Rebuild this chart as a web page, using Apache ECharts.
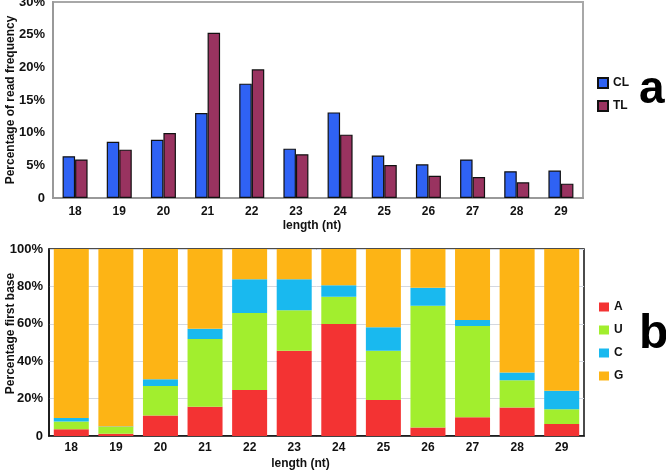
<!DOCTYPE html>
<html>
<head>
<meta charset="utf-8">
<script src="https://cdn.jsdelivr.net/npm/echarts@6/dist/echarts.min.js"></script>
<style>
  html, body { margin: 0; padding: 0; background: #fff; }
  #chart { width: 666px; height: 470px; }
</style>
</head>
<body>
<div id="chart"></div>
<script>
// read length categories
var lengths = ['18', '19', '20', '21', '22', '23', '24', '25', '26', '27', '28', '29'];
// panel a: percentage of read frequency
var clFreq = [6.4, 8.6, 8.9, 13.0, 17.5, 7.55, 13.1, 6.5, 5.15, 5.9, 4.1, 4.2];
var tlFreq = [5.9, 7.4, 9.95, 25.3, 19.7, 6.7, 9.7, 5.05, 3.4, 3.2, 2.4, 2.2];
// panel b: first base composition (%)
var baseA = [3.6, 1.2, 10.9, 15.7, 24.6, 45.6, 59.9, 19.3, 4.6, 10.0, 15.2, 6.4];
var baseU = [4.1, 3.6, 15.8, 36.2, 41.2, 21.6, 14.6, 26.3, 65.1, 48.8, 14.6, 7.9];
var baseC = [1.9, 0.3, 3.6, 5.5, 18.0, 16.6, 6.1, 12.5, 9.6, 3.2, 4.1, 9.9];
var baseG = [90.4, 94.9, 69.7, 42.6, 16.2, 16.2, 19.4, 41.9, 20.7, 38.0, 66.1, 75.8];

var font = 'Liberation Sans, Arial, sans-serif';
var bold = { fontFamily: font, fontWeight: 'bold', color: '#111', fontSize: 12 };

function pct(v) { return v === 0 ? '0' : v + '%'; }

var chart = echarts.init(document.getElementById('chart'));

var option = {
    animation: false,
    backgroundColor: '#fff',
    title: [
        { text: 'a', left: 634, top: 62, textStyle: { fontFamily: font, fontSize: 46, fontWeight: 'bold', color: '#000' } },
        { text: 'b', left: 634, top: 306, textStyle: { fontFamily: font, fontSize: 48, fontWeight: 'bold', color: '#000' } }
    ],
    grid: [
        {
            left: 53, right: 83, top: 2, height: 196, containLabel: false, outerBoundsMode: 'none',
            show: true, borderColor: '#a8a8a8', borderWidth: 2
        },
        {
            left: 49, right: 82, top: 249, height: 187, containLabel: false, outerBoundsMode: 'none',
            show: true, borderColor: '#111', borderWidth: 1.5
        }
    ],
    legend: [
        {
            data: ['CL', 'TL'],
            orient: 'vertical',
            left: 592, top: 72,
            icon: 'rect',
            itemWidth: 10, itemHeight: 10, itemGap: 11,
            textStyle: { fontFamily: font, fontWeight: 'bold', fontSize: 12, color: '#111' }
        },
        {
            data: ['A', 'U', 'C', 'G'],
            orient: 'vertical',
            left: 594, top: 296,
            icon: 'rect',
            itemWidth: 10, itemHeight: 9, itemGap: 11,
            textStyle: { fontFamily: font, fontWeight: 'bold', fontSize: 12, color: '#111' }
        }
    ],
    xAxis: [
        {
            type: 'category', gridIndex: 0, data: lengths,
            name: 'length (nt)', nameLocation: 'middle', nameGap: 22,
            nameTextStyle: Object.assign({ padding: [0, 12, 0, 0] }, bold),
            axisLine: { lineStyle: { color: '#999', width: 2 } },
            axisTick: { inside: true, length: 4, lineStyle: { color: '#999' } },
            axisLabel: Object.assign({ margin: 8 }, bold)
        },
        {
            type: 'category', gridIndex: 1, data: lengths,
            name: 'length (nt)', nameLocation: 'middle', nameGap: 22,
            nameTextStyle: Object.assign({ padding: [0, 32, 0, 0] }, bold),
            axisLine: { lineStyle: { color: '#111', width: 1.5 } },
            axisTick: { show: false },
            axisLabel: Object.assign({ margin: 6 }, bold)
        }
    ],
    yAxis: [
        {
            type: 'value', gridIndex: 0, min: 0, max: 30, interval: 5,
            name: 'Percentage of read frequency', nameLocation: 'middle', nameGap: 36,
            nameMoveOverlap: false,
            nameTextStyle: bold,
            axisLine: { show: true, lineStyle: { color: '#999', width: 2 } },
            axisTick: { show: false },
            splitLine: { show: false },
            axisLabel: Object.assign({ formatter: pct, margin: 8 }, bold, { fontSize: 13 })
        },
        {
            type: 'value', gridIndex: 1, min: 0, max: 100, interval: 20,
            name: 'Percentage first base', nameLocation: 'middle', nameGap: 32,
            nameMoveOverlap: false,
            nameTextStyle: Object.assign({ padding: [0, 0, 0, 18] }, bold),
            axisLine: { show: true, lineStyle: { color: '#111', width: 1.5 } },
            axisTick: { show: false },
            splitLine: { show: true, lineStyle: { color: '#d4d8e0' } },
            axisLabel: Object.assign({ formatter: pct, margin: 6 }, bold, { fontSize: 13 })
        }
    ],
    series: [
        {
            name: 'CL', type: 'bar', xAxisIndex: 0, yAxisIndex: 0, data: clFreq,
            barWidth: 12.5, barGap: '0%',
            itemStyle: { color: '#2f62f4', borderColor: '#111', borderWidth: 1.2 }
        },
        {
            name: 'TL', type: 'bar', xAxisIndex: 0, yAxisIndex: 0, data: tlFreq,
            barWidth: 12.5, barGap: '0%',
            itemStyle: { color: '#993360', borderColor: '#111', borderWidth: 1.2 }
        },
        {
            name: 'A', type: 'bar', stack: 'base', xAxisIndex: 1, yAxisIndex: 1, data: baseA,
            barWidth: 35, itemStyle: { color: '#f33333' }
        },
        {
            name: 'U', type: 'bar', stack: 'base', xAxisIndex: 1, yAxisIndex: 1, data: baseU,
            barWidth: 35, itemStyle: { color: '#a2ee2e' }
        },
        {
            name: 'C', type: 'bar', stack: 'base', xAxisIndex: 1, yAxisIndex: 1, data: baseC,
            barWidth: 35, itemStyle: { color: '#19b9ef' }
        },
        {
            name: 'G', type: 'bar', stack: 'base', xAxisIndex: 1, yAxisIndex: 1, data: baseG,
            barWidth: 35, itemStyle: { color: '#fdb415' }
        }
    ]
};

chart.setOption(option);
</script>
</body>
</html>
